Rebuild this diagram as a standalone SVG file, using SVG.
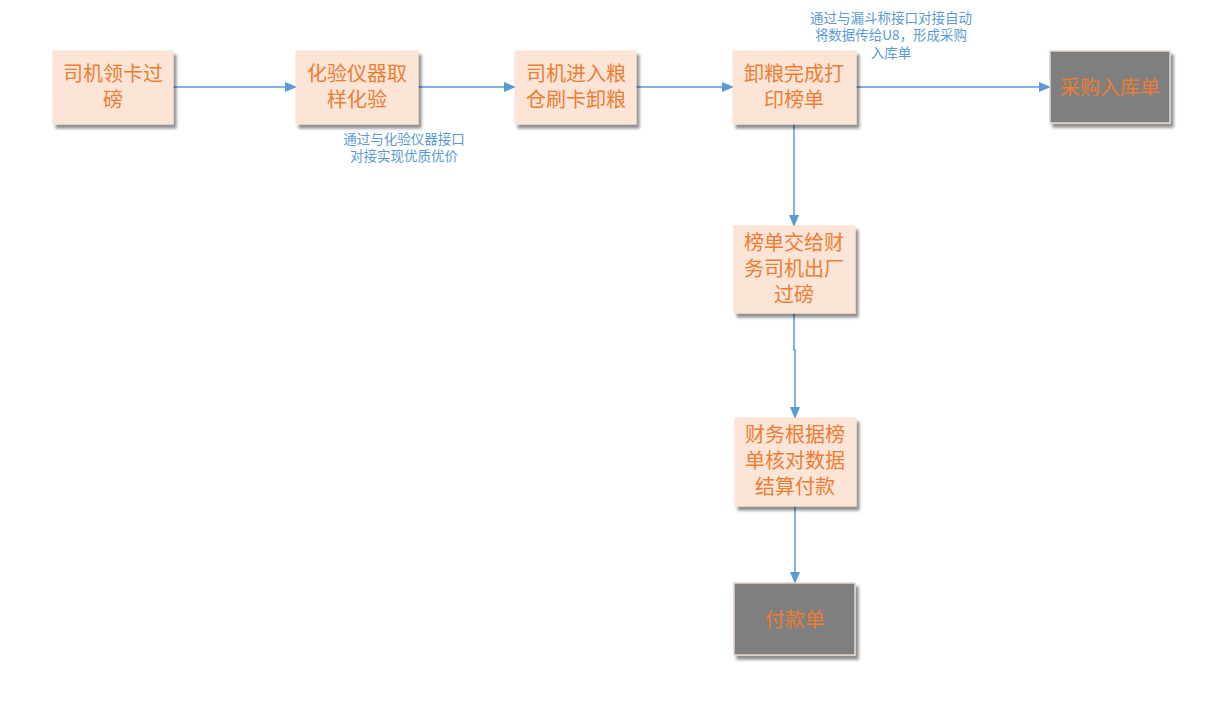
<svg xmlns="http://www.w3.org/2000/svg" width="1217" height="705" viewBox="0 0 1217 705">
<defs>
<filter id="sh" x="-10%" y="-10%" width="130%" height="130%">
<feGaussianBlur in="SourceAlpha" stdDeviation="1.5"/>
<feOffset dx="3" dy="4" result="b"/>
<feComponentTransfer><feFuncA type="linear" slope="0.45"/></feComponentTransfer>
<feMerge><feMergeNode/><feMergeNode in="SourceGraphic"/></feMerge>
</filter>
<marker id="ah" markerWidth="12" markerHeight="10" refX="11" refY="5" orient="auto" markerUnits="userSpaceOnUse">
<path d="M0,0 L12,5 L0,10 Z" fill="#5B9BD5"/>
</marker>
</defs>
<style>
.box{fill:#FCE4D6;stroke:#FBE0CE;stroke-width:1;filter:url(#sh)}
.gbox{fill:#7F7F7F;stroke:#E6D5CB;stroke-width:1.5;filter:url(#sh)}
.t{font-family:"Noto Sans CJK SC","Liberation Sans",sans-serif;font-size:20px;fill:#ED7D31;text-anchor:middle}
.n{font-family:"Noto Sans CJK SC","Liberation Sans",sans-serif;font-size:13.5px;fill:#5B9BD5;text-anchor:middle}
.c{fill:none;stroke:#5B9BD5;stroke-width:1.5;marker-end:url(#ah)}
</style>
<rect width="1217" height="705" fill="#FFFFFF"/>
<g id="connectors">
<path class="c" d="M173,87 L296,87"/>
<path class="c" d="M418,87 L515,87"/>
<path class="c" d="M636,87 L733,87"/>
<path class="c" d="M856,87 L1050,87"/>
<path class="c" d="M794,124 L794,226"/>
<path class="c" d="M794,313 L794,350 L795,350 L795,418"/>
<path class="c" d="M795,506 L795,583"/>
</g>
<g id="n1"><rect class="box" x="53" y="51" width="120" height="73"/>
<text class="t" y="81"><tspan x="113">司机领卡过</tspan><tspan x="113" dy="26">磅</tspan></text></g>
<g id="n2"><rect class="box" x="296" y="51" width="122" height="73"/>
<text class="t" y="81"><tspan x="357">化验仪器取</tspan><tspan x="357" dy="26">样化验</tspan></text></g>
<g id="n3"><rect class="box" x="515" y="51" width="121" height="73"/>
<text class="t" y="81"><tspan x="576">司机进入粮</tspan><tspan x="576" dy="26">仓刷卡卸粮</tspan></text></g>
<g id="n4"><rect class="box" x="733" y="51" width="123" height="73"/>
<text class="t" y="81"><tspan x="794">卸粮完成打</tspan><tspan x="794" dy="26">印榜单</tspan></text></g>
<g id="n5"><rect class="gbox" x="1050" y="51" width="120" height="72"/>
<text class="t" x="1110" y="95">采购入库单</text></g>
<g id="n6"><rect class="box" x="734" y="226" width="121" height="87"/>
<text class="t" y="250"><tspan x="794">榜单交给财</tspan><tspan x="794" dy="26">务司机出厂</tspan><tspan x="794" dy="26">过磅</tspan></text></g>
<g id="n7"><rect class="box" x="735" y="418" width="121" height="88"/>
<text class="t" y="442"><tspan x="795">财务根据榜</tspan><tspan x="795" dy="26">单核对数据</tspan><tspan x="795" dy="26">结算付款</tspan></text></g>
<g id="n8"><rect class="gbox" x="734" y="583" width="121" height="72"/>
<text class="t" x="795" y="627">付款单</text></g>
<g id="notes">
<text class="n" y="144"><tspan x="404">通过与化验仪器接口</tspan><tspan x="404" dy="17">对接实现优质优价</tspan></text>
<text class="n" y="23"><tspan x="891">通过与漏斗称接口对接自动</tspan><tspan x="891" dy="17">将数据传给U8，形成采购</tspan><tspan x="891" dy="18">入库单</tspan></text>
</g>
</svg>
